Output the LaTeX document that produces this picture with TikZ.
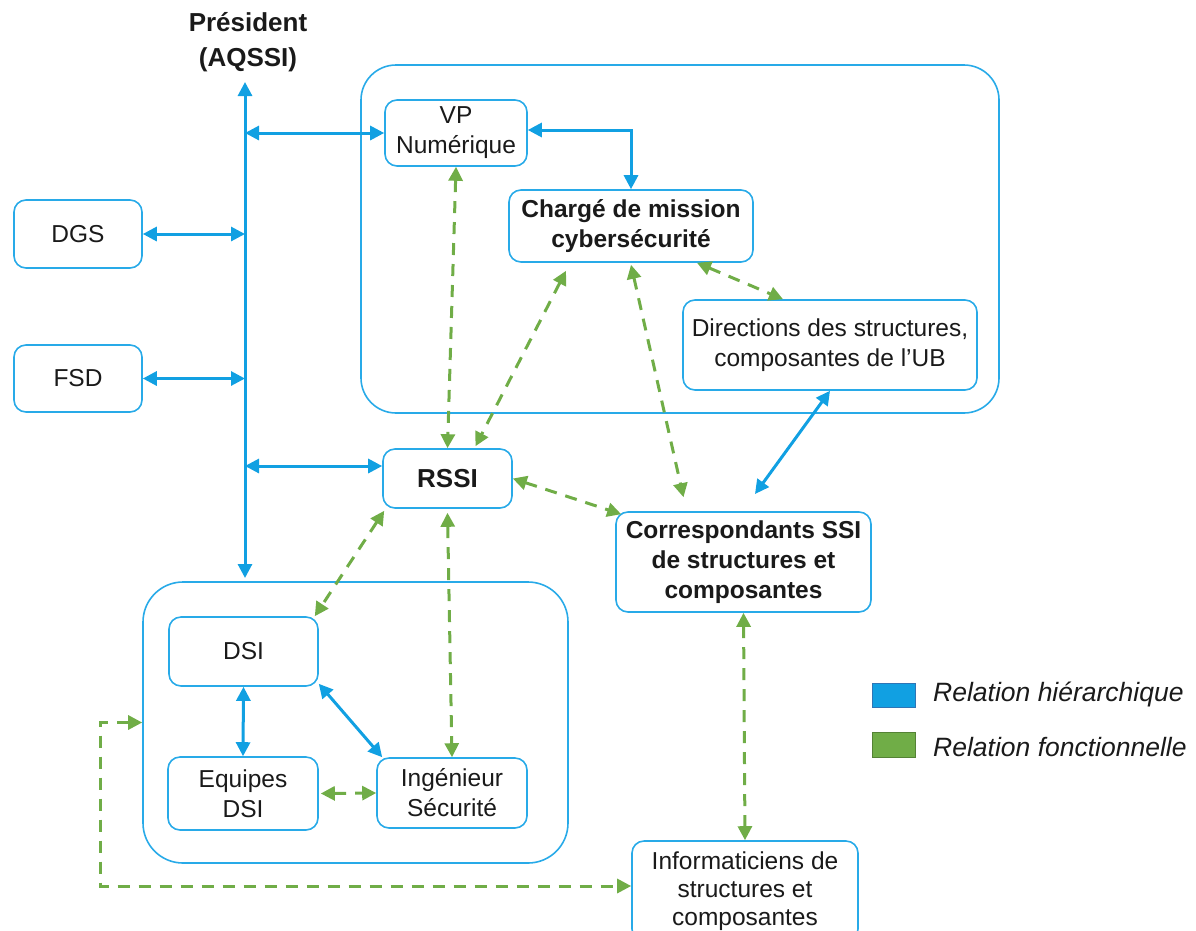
\documentclass[tikz,border=0pt]{standalone}
\usepackage{fontspec}
\setmainfont{Liberation Sans}
\usetikzlibrary{arrows.meta,calc}
\definecolor{hblue}{RGB}{17,160,226}
\definecolor{bblue}{RGB}{40,170,232}
\definecolor{fgreen}{RGB}{112,173,71}
\definecolor{txt}{RGB}{26,26,26}
\definecolor{legblueb}{RGB}{46,117,182}
\definecolor{leggreenb}{RGB}{84,130,53}
\begin{document}
\begin{tikzpicture}[x=1pt,y=-1pt,
  box/.style={draw=bblue,line width=1.6pt,rounded corners=12pt,inner sep=0pt,align=center,text=txt,font=\fontsize{24.5}{30}\selectfont},
  bbox/.style={box,font=\fontsize{24.5}{30}\bfseries\selectfont},
  container/.style={draw=bblue,line width=1.6pt,inner sep=0pt},
  hier/.style={draw=hblue,line width=3pt,{Triangle[length=14pt,width=14pt]}-{Triangle[length=14pt,width=14pt]}},
  func/.style={draw=fgreen,line width=3pt,dash pattern=on 12pt off 9pt,{Triangle[length=14pt,width=14pt]}-{Triangle[length=14pt,width=14pt]}},
  legtext/.style={anchor=west,inner sep=0pt,text=txt,font=\fontsize{26.5}{30}\itshape\selectfont}]
\useasboundingbox (0,0) rectangle (1196,930);
% containers
\node[container,rounded corners=35pt,minimum width=638pt,minimum height=348pt] (top) at (680,239) {};
\node[container,rounded corners=40pt,minimum width=425pt,minimum height=281pt] (bot) at (355.5,722.5) {};
% title
\node[align=center,text=txt,inner sep=0pt,font=\fontsize{26}{35}\bfseries\selectfont] (pres) at (248,42) {Président\\(AQSSI)};
% nodes
\node[box,minimum width=142pt,minimum height=66pt] (vp) at (456,133) {VP\\Numérique};
\node[bbox,minimum width=244pt,minimum height=72pt] (cm) at (631,226) {Chargé de mission\\cybersécurité};
\node[box,minimum width=294pt,minimum height=90pt] (dir) at (830,345) {Directions des structures,\\composantes de l’UB};
\node[box,minimum width=128pt,minimum height=68pt] (dgs) at (78,234) {DGS};
\node[box,minimum width=128pt,minimum height=67pt] (fsd) at (78,378.5) {FSD};
\node[bbox,minimum width=129pt,minimum height=59pt,font=\fontsize{26}{30}\bfseries\selectfont] (rssi) at (447.5,478.5) {RSSI};
\node[bbox,minimum width=255pt,minimum height=100pt] (corr) at (743.5,562) {Correspondants SSI\\de structures et\\composantes};
\node[box,minimum width=149pt,minimum height=69pt] (dsi) at (243.5,651.5) {DSI};
\node[box,minimum width=150pt,minimum height=73pt] (eq) at (243,793.5) {Equipes\\DSI};
\node[box,minimum width=150pt,minimum height=70pt] (ing) at (452,793) {Ingénieur\\Sécurité};
\node[box,minimum width=226pt,minimum height=100pt,font=\fontsize{24.5}{28}\selectfont] (info) at (745,891) {Informaticiens de\\structures et\\composantes};
% trunk
\coordinate (ttop) at (245,82);
\coordinate (tbot) at (245,578);
\coordinate (j1) at (245,133);
\coordinate (j2) at (245,234);
\coordinate (j3) at (245,378.5);
\coordinate (j4) at (245,466);
\draw[hier] (ttop) -- (tbot);
\draw[hier] (j1) -- (vp.west);
\draw[hier] (j2) -- (dgs.east);
\draw[hier] (j3) -- (fsd.east);
\draw[hier] (j4) -- (rssi.west |- j4);
\draw[hier] ([yshift=3]vp.east) -| (cm.north);
\coordinate (c1) at (755,494);
\draw[hier] (dir.south) -- (c1);
\draw[hier] (dsi.south) -- (eq.north);
\draw[hier] ([yshift=3]dsi.south east) -- ([xshift=6]ing.north west);
% functional
\draw[func] (vp.south) -- (rssi.north);
\draw[func] ([xshift=-65,yshift=-8]cm.south) -- ([xshift=28,yshift=2]rssi.north);
\draw[func] ([yshift=-2]cm.south) -- ([xshift=-60,yshift=14]corr.north);
\draw[func] ([xshift=66]cm.south) -- ([xshift=-47]dir.north);
\draw[func] (rssi.east) -- ([xshift=6,yshift=-3]corr.north west);
\draw[func] ([xshift=2,yshift=-2]rssi.south west) -- ([xshift=-4]dsi.north east);
\draw[func] ([yshift=-4]rssi.south) -- (ing.north);
\draw[func] ([xshift=2]eq.east) -- (ing.west);
\draw[func] (corr.south) -- (info.north);
\coordinate (lc) at (100,722.5);
\draw[func] (bot.west) -- (lc) |- ([yshift=5]info.west);
% legend
\node[draw=legblueb,fill=hblue,line width=1pt,minimum width=43pt,minimum height=24pt,inner sep=0pt] (lb) at (893.5,695) {};
\node[draw=leggreenb,fill=fgreen,line width=1pt,minimum width=43pt,minimum height=25pt,inner sep=0pt] (lg) at (893.5,744.5) {};
\node[legtext] (lbt) at (933,694) {Relation hiérarchique};
\node[legtext] (lgt) at (933,747) {Relation fonctionnelle};
\end{tikzpicture}
\end{document}
